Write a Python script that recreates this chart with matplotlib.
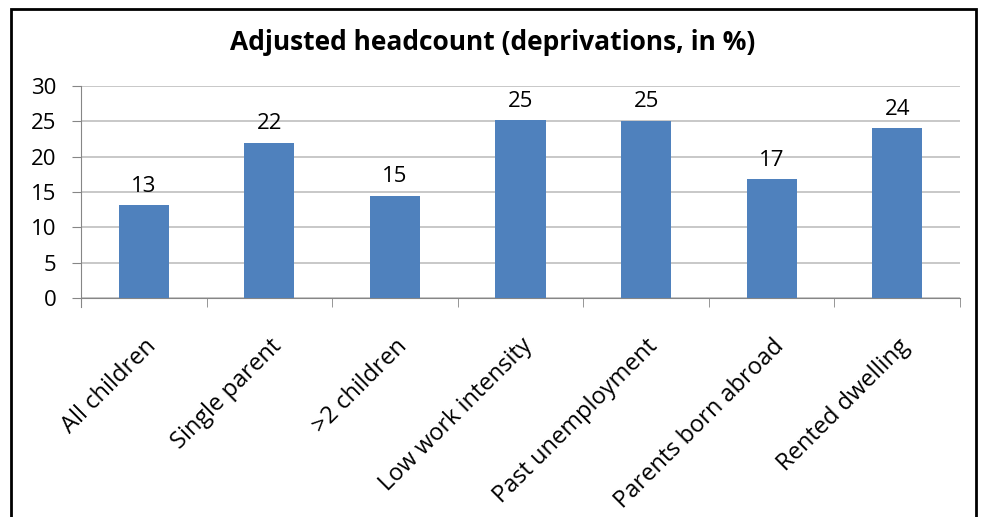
import matplotlib
matplotlib.use("Agg")
import matplotlib.pyplot as plt
import matplotlib.transforms as mtransforms
from matplotlib.patches import Rectangle
import numpy as np

categories = ["All children", "Single parent", ">2 children", "Low work intensity",
              "Past unemployment", "Parents born abroad", "Rented dwelling"]
values = [13.1, 22.0, 14.5, 25.2, 25.1, 16.8, 24.0]
labels = ["13", "22", "15", "25", "25", "17", "24"]
yticks = [0, 5, 10, 15, 20, 25, 30]

plt.rcParams['font.family'] = ['Open Sans', 'DejaVu Sans']

W, H = 981, 517
fig = plt.figure(figsize=(W / 100, H / 100), dpi=100)
ax = fig.add_axes([81 / W, 1 - 298 / H, (960 - 81) / W, (298 - 86) / H])

x = np.arange(len(categories))
bars = ax.bar(x, values, width=0.4, color="#4F81BD", zorder=3)
for b, lab in zip(bars, labels):
    ax.annotate(lab, (b.get_x() + b.get_width() / 2, b.get_height()),
                xytext=(0, 6), textcoords="offset points",
                ha="center", va="bottom", fontsize=16)

ax.set_xlim(-0.5, len(categories) - 0.5)
ax.set_ylim(0, 30)
ax.set_yticks(yticks)
ax.yaxis.grid(True, color="#BFBFBF", linewidth=1.2, zorder=0)
ax.set_axisbelow(True)

for s in ["top", "right"]:
    ax.spines[s].set_visible(False)
ax.spines["left"].set_color("#868686")
ax.spines["bottom"].set_color("#868686")
ax.spines["left"].set_bounds(-1.3, 30)

ax.tick_params(axis="y", length=6.5, color="#868686", labelsize=16, pad=11)
# category boundary ticks
ax.set_xticks(np.arange(-0.5, len(categories), 1.0), minor=True)
ax.tick_params(axis="x", which="minor", length=6.5, color="#868686")
ax.set_xticks(x)
ax.set_xticklabels(categories, rotation=45, ha="right", va="top",
                   rotation_mode="anchor", fontsize=17)
ax.tick_params(axis="x", which="major", length=0, pad=26)
offset = mtransforms.ScaledTranslation(0 / 100, 0, fig.dpi_scale_trans)
for t in ax.get_xticklabels():
    t.set_transform(t.get_transform() + offset)

fig.text(493 / W, 1 - 43 / H, "Adjusted headcount (deprivations, in %)",
         ha="center", va="center", fontsize=19, fontweight="bold")

fig.patches.append(Rectangle((11 / W, -0.05), (976 - 11) / W, 1.05 - 9 / H,
                             transform=fig.transFigure, fill=False,
                             edgecolor="black", linewidth=2))

fig.savefig("out.png", dpi=100)
